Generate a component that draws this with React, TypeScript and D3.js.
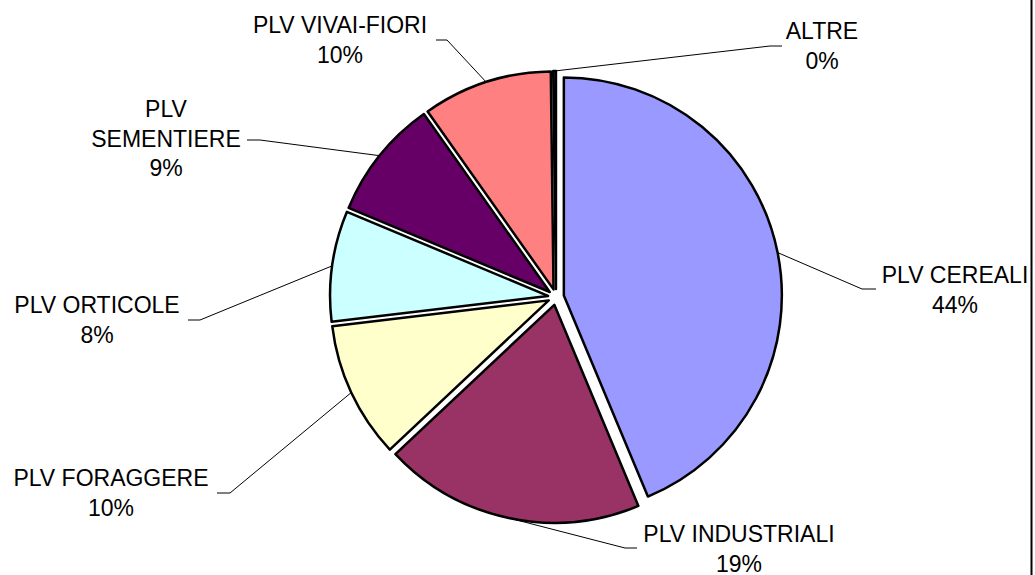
import React, { useEffect, useRef } from "react";
import * as d3 from "d3";

// data
const categories = [
  "PLV CEREALI",
  "PLV INDUSTRIALI",
  "PLV FORAGGERE",
  "PLV ORTICOLE",
  "PLV SEMENTIERE",
  "PLV VIVAI-FIORI",
  "ALTRE",
];
const values = [43.7, 19.3, 10.1, 8.2, 8.9, 9.6, 0.2];
const colors = ["#9999FF", "#993366", "#FFFFCC", "#CCFFFF", "#660066", "#FF8080", "#0066CC"];

// label placement (text centre x, first baseline y, elbow of leader, stub end x)
const labelLayout = [
  { x: 955, y: 283, ex: 862, ey: 289, sx: 876 },
  { x: 739, y: 542, ex: 625, ey: 548, sx: 637 },
  { x: 111, y: 486, ex: 230, ey: 493, sx: 217 },
  { x: 97, y: 313, ex: 200, ey: 320, sx: 188 },
  { x: 166, y: 117, ex: 260, ey: 140, sx: 247 },
  { x: 340, y: 33, ex: 447, ey: 40, sx: 436 },
  { x: 822, y: 39, ex: 770, ey: 46, sx: 782 },
];

const App = () => {
  const ref = useRef<SVGSVGElement>(null);

  useEffect(() => {
    const width = 1035;
    const height = 575;
    const cx = 556;
    const cy = 297;
    const radius = 218;
    const explode = 8;
    const lineHeight = 29.5;

    const svg = d3.select(ref.current).attr("width", width).attr("height", height);
    svg.selectAll("*").remove();

    const total = d3.sum(values);
    const pie = d3
      .pie<number>()
      .sort(null)
      .value((d) => d);
    const arcs = pie(values);
    const arc = d3.arc<d3.PieArcDatum<number>>().innerRadius(0).outerRadius(radius);

    const mid = (a: d3.PieArcDatum<number>) => (a.startAngle + a.endAngle) / 2;

    const g = svg.append("g").attr("transform", `translate(${cx},${cy})`);

    g.selectAll("path.slice")
      .data(arcs)
      .join("path")
      .attr("class", "slice")
      .attr("d", arc)
      .attr("transform", (a) => {
        const m = mid(a);
        return `translate(${explode * Math.sin(m)},${-explode * Math.cos(m)})`;
      })
      .attr("fill", (_, i) => colors[i])
      .attr("stroke", "#000")
      .attr("stroke-width", 2.5)
      .attr("stroke-linejoin", "round");

    // leader lines
    svg
      .selectAll("path.leader")
      .data(arcs)
      .join("path")
      .attr("class", "leader")
      .attr("d", (a, i) => {
        const m = mid(a);
        const r = radius + explode;
        const px = cx + r * Math.sin(m);
        const py = cy - r * Math.cos(m);
        const l = labelLayout[i];
        return `M${px},${py}L${l.ex},${l.ey}L${l.sx},${l.ey}`;
      })
      .attr("fill", "none")
      .attr("stroke", "#000")
      .attr("stroke-width", 1);

    // labels
    const labels = svg
      .selectAll("text.label")
      .data(arcs)
      .join("text")
      .attr("class", "label")
      .attr("text-anchor", "middle")
      .attr("font-family", "'Liberation Sans', Arial, sans-serif")
      .attr("font-size", 23)
      .attr("fill", "#000");

    labels.each(function (a, i) {
      const name = categories[i];
      const lines = name === "PLV SEMENTIERE" ? ["PLV", "SEMENTIERE"] : [name];
      lines.push(`${Math.round((a.value / total) * 100)}%`);
      const l = labelLayout[i];
      d3.select(this)
        .selectAll("tspan")
        .data(lines)
        .join("tspan")
        .attr("x", l.x)
        .attr("y", (_, j) => l.y + j * lineHeight)
        .text((d) => d);
    });

    // chart area border (only the right edge is visible)
    svg
      .append("line")
      .attr("x1", 1031.5)
      .attr("x2", 1031.5)
      .attr("y1", 0)
      .attr("y2", height)
      .attr("stroke", "#000")
      .attr("stroke-width", 2);
  }, []);

  return <svg ref={ref} style={{ position: "absolute", left: 0, top: 0, background: "#fff" }} />;
};

export default App;
